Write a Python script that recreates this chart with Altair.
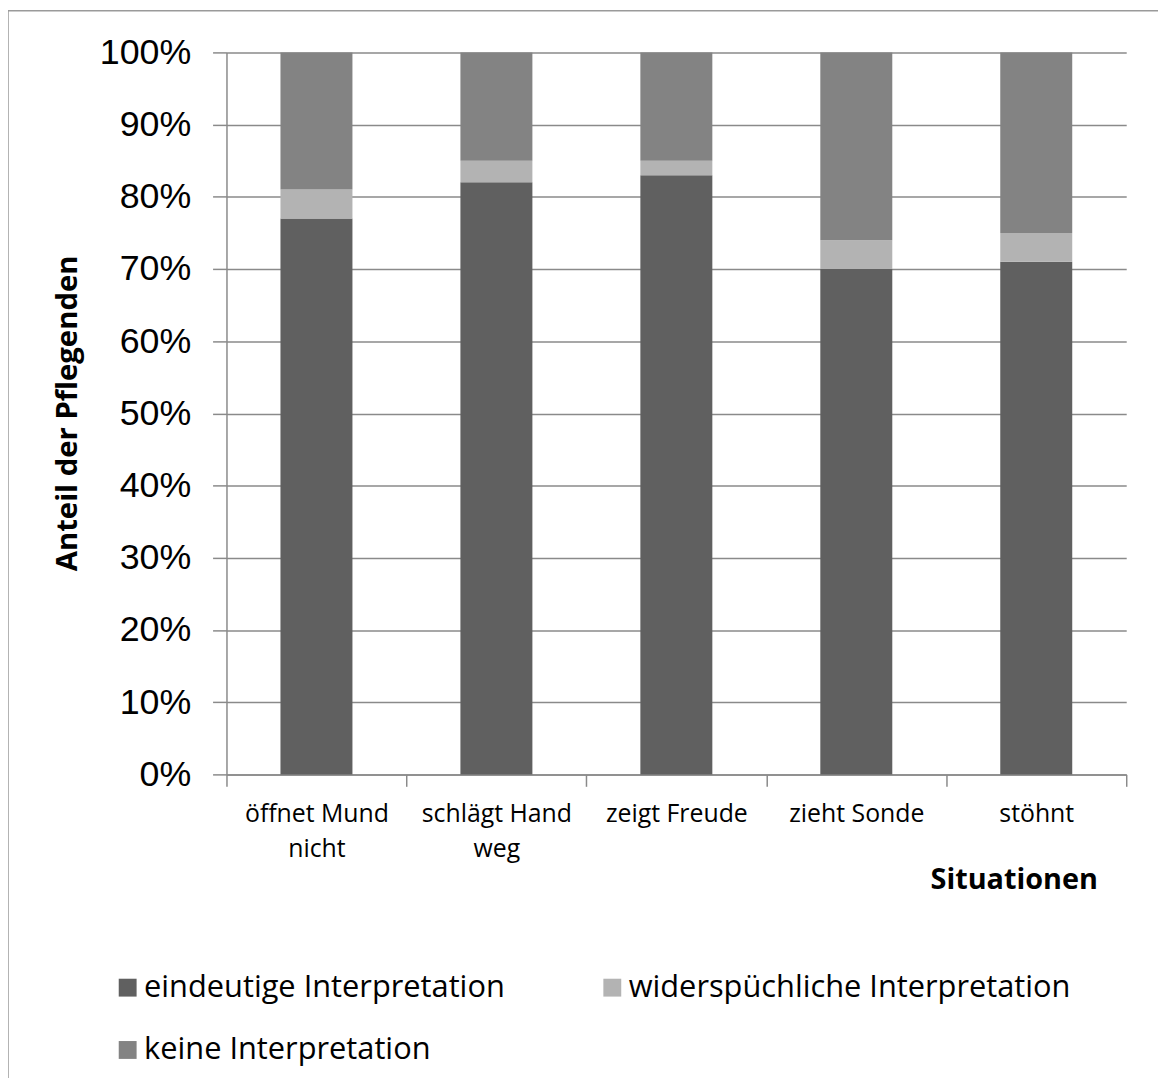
import altair as alt
import pandas as pd

categories = ["öffnet Mund\nnicht", "schlägt Hand\nweg", "zeigt Freude", "zieht Sonde", "stöhnt"]
series = ["eindeutige Interpretation", "widerspüchliche Interpretation", "keine Interpretation"]
eindeutig = [0.77, 0.82, 0.83, 0.70, 0.71]
widerspruch = [0.04, 0.03, 0.02, 0.04, 0.04]
keine = [0.19, 0.15, 0.15, 0.26, 0.25]
colors = ["#606060", "#b3b3b3", "#838383"]
y_ticks = [0, 0.1, 0.2, 0.3, 0.4, 0.5, 0.6, 0.7, 0.8, 0.9, 1.0]

rows = []
for i, c in enumerate(categories):
    for k, (s, vals) in enumerate(zip(series, [eindeutig, widerspruch, keine])):
        rows.append({"Situation": c, "Serie": s, "Wert": vals[i], "ord": k})
df = pd.DataFrame(rows)

W, H = 906, 727
GRID = "#8a8a8a"

bars = alt.Chart(df).mark_bar(width=alt.RelativeBandSize(0.4)).encode(
    x=alt.X("Situation:N", sort=categories,
            scale=alt.Scale(paddingInner=0, paddingOuter=0),
            axis=alt.Axis(title="Situationen", labelAngle=0,
                          labelExpr="split(datum.label, '\\n')",
                          labelFont="Open Sans", labelFontSize=25, labelColor="black",
                          labelLineHeight=36, labelBaseline="top", labelPadding=15,
                          tickBand="extent", tickSize=12, tickColor=GRID, tickWidth=1.5,
                          domainColor=GRID, domainWidth=1.5,
                          titleFont="Open Sans", titleFontSize=29, titleFontWeight="bold",
                          titleColor="black", titleAnchor="end", titleAlign="right",
                          titleBaseline="middle", titleX=877, titleY=106,
                          labelLimit=0)),
    y=alt.Y("Wert:Q", stack="zero",
            scale=alt.Scale(domain=[0, 1], nice=False),
            axis=alt.Axis(title="Anteil der Pflegenden", format=".0%", values=y_ticks,
                          labelFont="Liberation Sans", labelFontSize=36, labelColor="black",
                          labelPadding=22, tickSize=14, tickColor=GRID, tickWidth=1.5,
                          domainColor=GRID, domainWidth=1.5,
                          grid=True, gridColor=GRID, gridWidth=1.5,
                          titleFont="Open Sans", titleFontSize=29.5, titleFontWeight="bold",
                          titleColor="black", titleAngle=270, titleAlign="center",
                          titleBaseline="middle", titleX=-160, titleY=363)),
    color=alt.Color("Serie:N", sort=series,
                    scale=alt.Scale(domain=series, range=colors),
                    legend=alt.Legend(title=None, orient="none", legendX=-115, legendY=926,
                                      direction="horizontal", padding=0,
                                      columns=2, symbolType="square", symbolSize=324,
                                      symbolStrokeWidth=0, labelFont="Open Sans",
                                      labelFontSize=31, labelColor="black", labelLimit=0,
                                      labelOffset=1, rowPadding=31, columnPadding=92)),
    order=alt.Order("ord:Q"),
)

frame = alt.Chart(alt.Data(values=[{"a": 1}])).mark_rect(
    fillOpacity=0, stroke="#9a9a9a", strokeWidth=1.5
).encode(
    x=alt.value(-220), x2=alt.value(1100), y=alt.value(-42), y2=alt.value(1200)
)

chart = alt.layer(bars, frame).properties(
    width=W, height=H,
    autosize=alt.AutoSizeParams(type="none"),
    padding={"left": 220, "top": 41, "right": 32, "bottom": 302},
).configure_view(stroke=None)

chart.save("out.html", embed_options={"renderer": "svg", "actions": False})
